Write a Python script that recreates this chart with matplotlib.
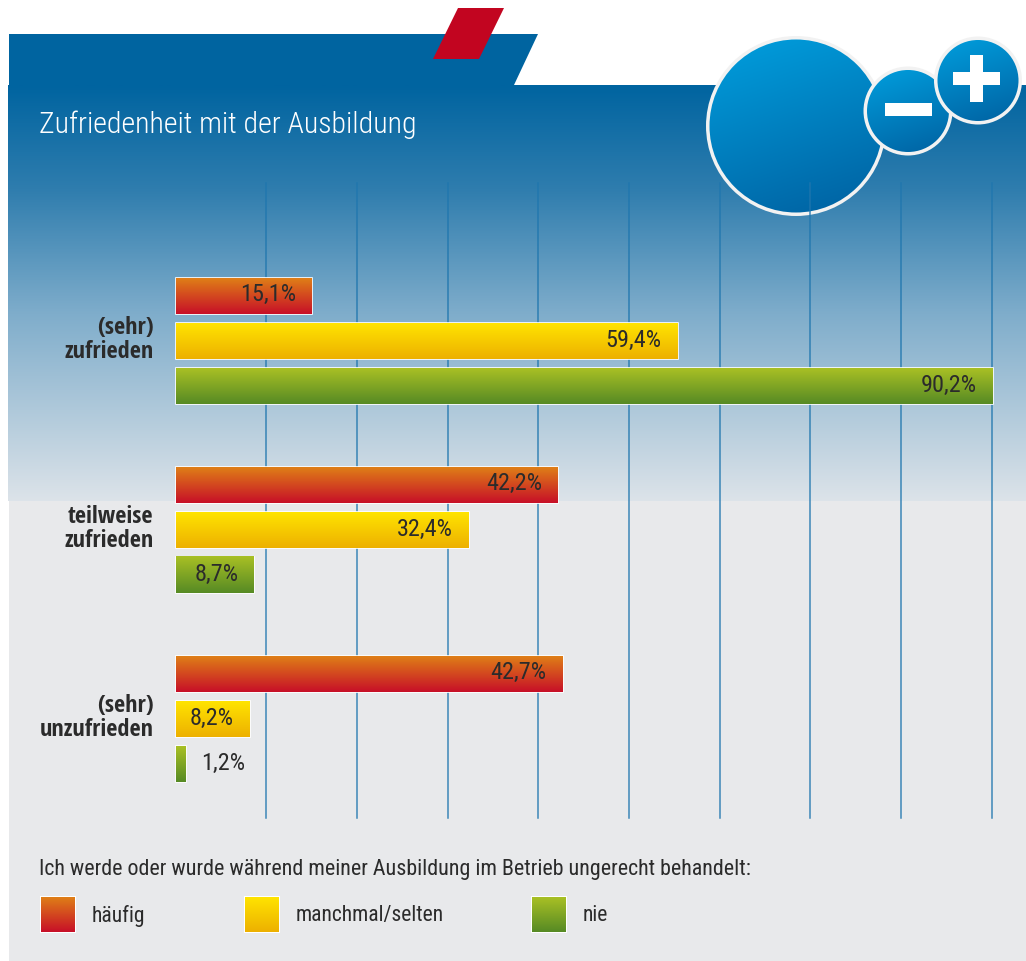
#!/usr/bin/env python3
import matplotlib
matplotlib.use("Agg")
import matplotlib.pyplot as plt
import numpy as np
from matplotlib.colors import LinearSegmentedColormap
from matplotlib.patches import Circle, Polygon, Rectangle

# data
categories = ["(sehr)\nzufrieden", "teilweise\nzufrieden", "(sehr)\nunzufrieden"]
series_names = ["häufig", "manchmal/selten", "nie"]
haeufig = [15.1, 42.2, 42.7]
# the printed 59,4% bar is only drawn about 55.4 long in the original
manchmal = [55.4, 32.4, 8.2]
nie = [90.2, 8.7, 1.2]
haeufig_labels = ["15,1%", "42,2%", "42,7%"]
manchmal_labels = ["59,4%", "32,4%", "8,2%"]
nie_labels = ["90,2%", "8,7%", "1,2%"]
grid_ticks = [10, 20, 30, 40, 50, 60, 70, 80, 90]

title = "Zufriedenheit mit der Ausbildung"
legend_title = "Ich werde oder wurde während meiner Ausbildung im Betrieb ungerecht behandelt:"

# palette: (top, bottom) of each bar gradient
RED = ("#DF7F17", "#C70F28")
YELLOW = ("#FFE400", "#EDB000")
GREEN = ("#A9C024", "#568A25")
HEADER = "#0064A0"
PANEL = "#E8E9EB"
DARK = "#2B2B2B"

# condensed faces, falling back to what is sure to be there
TEXT_FONT = ["Roboto Condensed", "Asap Condensed", "Liberation Sans Narrow", "Liberation Sans"]
BOLD_FONT = ["Open Sans Condensed", "Roboto Condensed", "Liberation Sans Narrow", "Liberation Sans"]
plt.rcParams["font.family"] = TEXT_FONT
W, H = 1026, 962
fig = plt.figure(figsize=(W / 100, H / 100), dpi=100, facecolor="white")

# page layer in pixel coords
bg = fig.add_axes([0, 0, 1, 1], zorder=0)
bg.set_xlim(0, W)
bg.set_ylim(H, 0)
bg.axis("off")


def vgrad(ax, x0, x1, y0, y1, top, bottom, clip=None, z=2, direction="v"):
    cmap = LinearSegmentedColormap.from_list("g", [top, bottom])
    if direction == "v":
        arr = np.linspace(0, 1, 256).reshape(-1, 1)
    else:
        # diagonal, light top-left to dark bottom-right
        yy, xx = np.mgrid[0:1:200j, 0:1:200j]
        arr = yy * 0.75 + xx * 0.25
    im = ax.imshow(arr, extent=(x0, x1, y1, y0), cmap=cmap, aspect="auto",
                   vmin=0, vmax=1, zorder=z, interpolation="bilinear")
    if clip is not None:
        im.set_clip_path(clip)
    return im


# header + backgrounds
bg.add_patch(Polygon([(9, 35), (538, 35), (514, 86), (9, 86)], fc=HEADER, ec="none", zorder=1))
bg.add_patch(Polygon([(458, 9), (504, 9), (479, 60), (433, 60)], fc="#C20520", ec="none", zorder=3))
bg.add_patch(Rectangle((9, 500), W - 9, H - 500, fc=PANEL, ec="none", zorder=1))
cmap_bg = LinearSegmentedColormap.from_list(
    "bg", [(0, "#0064A0"), (0.25, "#2F7DAE"), (0.55, "#7FADCB"), (1, "#DCE3E9")])
bg.imshow(np.linspace(0, 1, 256).reshape(-1, 1), extent=(8, W, 502, 86), cmap=cmap_bg,
          aspect="auto", zorder=1)
bg.set_xlim(0, W)
bg.set_ylim(H, 0)

# chart axes: x in percent, y in group units
PX_PER_UNIT = 816 / 90
ax = fig.add_axes([175.5 / W, 1 - 819 / H, 816 / W, (819 - 184) / H], zorder=2)
ax.patch.set_alpha(0)
ax.set_xlim(0, 90)
group_px = 189
y_top = (184 - 342) / group_px
y_bot = (819 - 342) / group_px
ax.set_ylim(y_bot, y_top)
ax.axis("off")

for t in grid_ticks:
    ax.axvline(t, color="#1F76AE", lw=1.1, alpha=0.85, zorder=1, clip_on=False)

bar_step = 45.3 / group_px
bar_h = 36 / group_px
series = [(haeufig, haeufig_labels, RED), (manchmal, manchmal_labels, YELLOW), (nie, nie_labels, GREEN)]
for s, (vals, labels, cols) in enumerate(series):
    ys = np.arange(len(categories)) + (s - 1) * bar_step
    ax.barh(ys, vals, height=bar_h, color="white", edgecolor="white", lw=1.2, zorder=2)
    for y, v, label in zip(ys, vals, labels):
        vgrad(ax, 0.1, v, y - bar_h / 2, y + bar_h / 2, cols[0], cols[1], z=3)
        ty = y - 2 / group_px
        if v < 5:
            ax.text(v + 15 / PX_PER_UNIT, ty, label, ha="left", va="center",
                    fontsize=17.5, color=DARK, zorder=4)
        else:
            ax.text(v - 16 / PX_PER_UNIT, ty, label, ha="right", va="center",
                    fontsize=17.5, color=DARK, zorder=4)
ax.set_xlim(0, 90)
ax.set_ylim(y_bot, y_top)
for im in ax.images:
    im.set_clip_on(False)
for p in ax.patches:
    p.set_clip_on(False)

# category labels
for i, c in enumerate(categories):
    ax.text(-22 / PX_PER_UNIT, i - 2 / group_px, c, ha="right", va="center", fontsize=17.5,
            family=BOLD_FONT, fontweight="normal", color=DARK, linespacing=1.05)

# title
bg.text(39, 125, title, fontsize=21.5, color="white", ha="left", va="center", zorder=5, fontweight=300)


# circles
def bubble(cx, cy, r, z):
    ring = Circle((cx, cy), r, fc="#F2F2F2", ec="none", zorder=z)
    bg.add_patch(ring)
    inner = Circle((cx, cy), r - 3.5, fc="none", ec="none", zorder=z)
    bg.add_patch(inner)
    vgrad(bg, cx - r, cx + r, cy - r, cy + r, "#00A0DF", "#005F9F", clip=inner, z=z, direction="d")


bubble(796, 127, 90, 6)
bubble(908, 112, 44.5, 6)
bg.add_patch(Rectangle((885, 104), 47, 13, fc="white", ec="none", zorder=7))
bubble(978, 81.5, 44, 8)
bg.add_patch(Rectangle((953, 73), 47, 13, fc="white", ec="none", zorder=9))
bg.add_patch(Rectangle((970, 56), 13, 47, fc="white", ec="none", zorder=9))
bg.set_xlim(0, W)
bg.set_ylim(H, 0)

# legend
bg.text(39, 870, legend_title, fontsize=15.8, color=DARK, ha="left", va="center", zorder=5)
swatch_x = [40, 244, 531]
for sx, name, (vals, labels, cols) in zip(swatch_x, series_names, series):
    bg.add_patch(Rectangle((sx, 897), 36, 37, fc="white", ec="none", zorder=4))
    vgrad(bg, sx + 1, sx + 35, 898, 933, cols[0], cols[1], z=5)
    bg.text(sx + 52, 916, name, fontsize=15.5, color=DARK, ha="left", va="center", zorder=5)
bg.set_xlim(0, W)
bg.set_ylim(H, 0)

fig.savefig("out.png", dpi=100)
